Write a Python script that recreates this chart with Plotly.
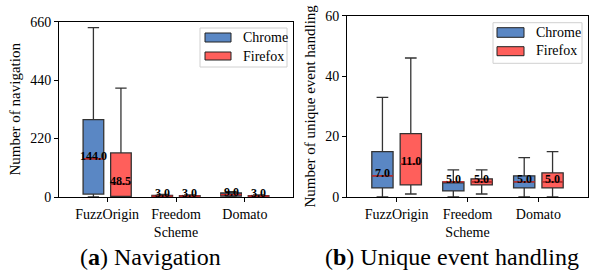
import plotly.graph_objects as go

W, H = 589, 279
categories = ["FuzzOrigin", "Freedom<br>Scheme", "Domato"]
browsers = ["Chrome", "Firefox"]

# Navigation (panel a)
nav_chrome_q1 = [11, 1, 3]
nav_chrome_med = [144.0, 3.0, 9.0]
nav_chrome_q3 = [291, 6, 15]
nav_chrome_lo = [0, 0, 0]
nav_chrome_hi = [638, 10, 20]
nav_firefox_q1 = [2, 1, 1]
nav_firefox_med = [48.5, 3.0, 3.0]
nav_firefox_q3 = [166, 5, 5]
nav_firefox_lo = [0, 0, 0]
nav_firefox_hi = [410, 8, 8]

# Unique event handling (panel b)
evt_chrome_q1 = [3, 2, 3]
evt_chrome_med = [7.0, 5.0, 5.0]
evt_chrome_q3 = [15, 5, 7]
evt_chrome_lo = [0, 0, 0]
evt_chrome_hi = [33, 9, 13]
evt_firefox_q1 = [4, 4, 3]
evt_firefox_med = [11.0, 5.0, 5.0]
evt_firefox_q3 = [21, 6, 8]
evt_firefox_lo = [1, 1, 0]
evt_firefox_hi = [46, 9, 15]

nav_ticks = [0, 220, 440, 660]
evt_ticks = [0, 20, 40, 60]

colors = {"Chrome": "#5A87C4", "Firefox": "#FF5F5B"}
offsets = {"Chrome": -0.2, "Firefox": 0.2}
BW = 0.3
FONT = "Liberation Serif, Times New Roman, serif"

fig = go.Figure()

panels = [
    ("x", "y", {"Chrome": (nav_chrome_q1, nav_chrome_med, nav_chrome_q3, nav_chrome_lo, nav_chrome_hi),
                "Firefox": (nav_firefox_q1, nav_firefox_med, nav_firefox_q3, nav_firefox_lo, nav_firefox_hi)}),
    ("x2", "y2", {"Chrome": (evt_chrome_q1, evt_chrome_med, evt_chrome_q3, evt_chrome_lo, evt_chrome_hi),
                  "Firefox": (evt_firefox_q1, evt_firefox_med, evt_firefox_q3, evt_firefox_lo, evt_firefox_hi)}),
]

for xa, ya, data in panels:
    for b in browsers:
        q1, med, q3, lo, hi = data[b]
        xs = [i + offsets[b] for i in range(len(categories))]
        fig.add_trace(go.Box(
            x=xs, q1=q1, median=med, q3=q3, lowerfence=lo, upperfence=hi,
            width=BW, whiskerwidth=0.55, fillcolor=colors[b],
            line=dict(color="#333333", width=1.3), boxpoints=False,
            xaxis=xa, yaxis=ya, showlegend=False, hoverinfo="skip"))
        # red median lines
        mx, my = [], []
        for x, m in zip(xs, med):
            mx += [x - BW / 2, x + BW / 2, None]
            my += [m, m, None]
        fig.add_trace(go.Scatter(x=mx, y=my, mode="lines",
                                 line=dict(color="#D62728", width=1.3),
                                 xaxis=xa, yaxis=ya, showlegend=False, hoverinfo="skip"))
        for x, m in zip(xs, med):
            fig.add_annotation(x=x, y=m, xref=xa, yref=ya, text=f"<b>{m:.1f}</b>",
                               showarrow=False, yshift=3, xanchor="center",
                               font=dict(family=FONT, size=12, color="black"))

def px_x(p):
    return p / W

def px_y(p):
    return (H - p) / H

axis_common = dict(showline=True, linecolor="black", linewidth=1, mirror=True,
                   ticks="outside", ticklen=4, tickcolor="black", showgrid=False,
                   zeroline=False, automargin=False,
                   tickfont=dict(family=FONT, size=14, color="black"))

fig.update_layout(
    width=W, height=H, margin=dict(l=0, r=0, t=0, b=0),
    paper_bgcolor="white", plot_bgcolor="white",
    xaxis=dict(domain=[px_x(59), px_x(293)], range=[-0.7, 2.7], tickvals=[0, 1, 2],
               ticktext=categories, anchor="y", **axis_common),
    yaxis=dict(domain=[px_y(197), px_y(21.7)], range=[0, 660], tickvals=nav_ticks,
               anchor="x", title=dict(text="Number of navigation", standoff=5,
                                      font=dict(family=FONT, size=15, color="black")),
               **axis_common),
    xaxis2=dict(domain=[px_x(347), px_x(588)], range=[-0.7, 2.7], tickvals=[0, 1, 2],
                ticktext=categories, anchor="y2", **axis_common),
    yaxis2=dict(domain=[px_y(197), px_y(15.7)], range=[0, 60], tickvals=evt_ticks,
                anchor="x2", title=dict(text="Number of unique event handling", standoff=5,
                                        font=dict(family=FONT, size=15, color="black")),
                **axis_common),
)

# manual legends
legends = [
    (200, 28, 287, 67, [(205, 231, 33, 42, 241, 37.5), (205, 231, 52, 60, 241, 56)]),
    (493, 22.7, 582, 63.3, [(497, 524, 27.7, 37.3, 534, 32.5), (497, 524, 46.7, 55.7, 534, 51)]),
]
for x0, y0, x1, y1, items in legends:
    fig.add_shape(type="rect", xref="paper", yref="paper",
                  x0=px_x(x0), x1=px_x(x1), y0=px_y(y1), y1=px_y(y0),
                  line=dict(color="#d0d0d0", width=1), fillcolor="white", layer="above")
    for b, (sx0, sx1, sy0, sy1, tx, ty) in zip(browsers, items):
        fig.add_shape(type="rect", xref="paper", yref="paper",
                      x0=px_x(sx0), x1=px_x(sx1), y0=px_y(sy1), y1=px_y(sy0),
                      line=dict(color="#222222", width=1), fillcolor=colors[b], layer="above")
        fig.add_annotation(x=px_x(tx), y=px_y(ty), xref="paper", yref="paper",
                           text=b, showarrow=False, xanchor="left", yanchor="middle",
                           font=dict(family=FONT, size=14, color="black"))

fig.add_annotation(x=px_x(150), y=px_y(257), xref="paper", yref="paper",
                   text="(<b>a</b>) Navigation", showarrow=False, xanchor="center",
                   yanchor="middle", font=dict(family=FONT, size=24, color="black"))
fig.add_annotation(x=px_x(452), y=px_y(257), xref="paper", yref="paper",
                   text="(<b>b</b>) Unique event handling", showarrow=False, xanchor="center",
                   yanchor="middle", font=dict(family=FONT, size=24, color="black"))

fig.write_html("out.html", config={"displayModeBar": False},
               post_script="document.body.style.margin='0';document.body.style.overflow='hidden';")
